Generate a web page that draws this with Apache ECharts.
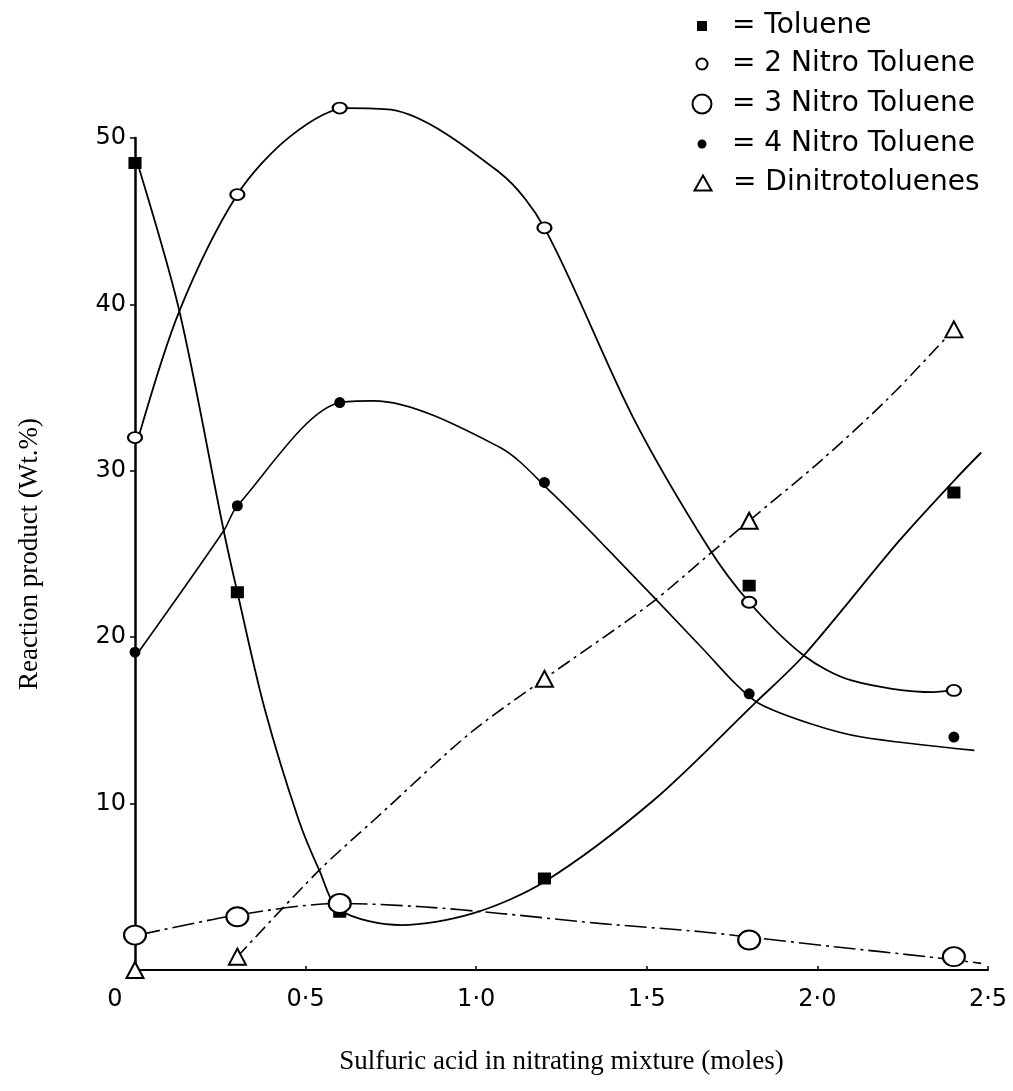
<!DOCTYPE html>
<html>
<head>
<meta charset="utf-8">
<script src="https://cdn.jsdelivr.net/npm/echarts@6/dist/echarts.min.js"></script>
<style>
  html, body { margin: 0; padding: 0; background: #fff; }
  #chart { width: 1013px; height: 1091px; }
</style>
</head>
<body>
<div id="chart"></div>
<script>
const xMoles   = [0, 0.3, 0.6, 1.2, 1.8, 2.4];
const toluene  = [48.5, 22.7, 3.5, 5.5, 23.1, 28.7];
const nitro2   = [32.0, 46.6, 51.8, 44.6, 22.1, 16.8];
const nitro3   = [2.1, 3.2, 4.0, null, 1.8, 0.8];
const nitro4   = [19.1, 27.9, 34.1, 29.3, 16.6, 14.0];
const dinitro  = [0, 0.8, null, 17.5, 27.0, 38.5];

// ---- hand-drawn fitted curves, knots ----
const tolueneCurve = [[0.01,48.3],[0.13,39.6],[0.26,26.4],[0.30,22.7],[0.38,15.7],[0.48,9.0],[0.54,6.0],[0.60,3.6],[0.78,2.7],[0.99,3.4],[1.20,5.3],[1.52,10.2],[1.82,16.1],[1.96,18.9],[2.24,25.8],[2.40,29.4],[2.48,31.1]];
const nitro2Curve  = [[0.01,32.0],[0.13,39.6],[0.30,46.6],[0.455,50.1],[0.62,51.8],[0.75,51.7],[1.07,47.9],[1.20,44.6],[1.46,33.2],[1.68,25.4],[1.80,22.1],[1.96,18.9],[2.10,17.4],[2.34,16.7],[2.39,16.8]];
const nitro3Curve  = [[0.01,2.1],[0.30,3.3],[0.60,4.0],[0.84,3.8],[1.07,3.4],[1.36,2.8],[1.66,2.3],[1.79,2.0],[2.05,1.4],[2.32,0.8],[2.48,0.4]];
const nitro4Curve  = [[0.01,19.1],[0.26,26.4],[0.30,27.9],[0.60,34.1],[0.70,34.2],[1.07,31.4],[1.22,28.7],[1.38,25.4],[1.66,19.4],[1.76,17.2],[1.83,16.0],[1.98,14.8],[2.13,14.0],[2.46,13.2]];
const dinitroCurve = [[0.30,0.8],[0.54,6.0],[0.70,9.0],[0.98,14.2],[1.20,17.5],[1.51,22.0],[1.69,25.1],[1.80,27.0],[2.01,30.6],[2.21,34.4],[2.40,38.5]];

const xTickLabels = ['0', '0·5', '1·0', '1·5', '2·0', '2·5'];
const yTickValues = [10, 20, 30, 40, 50];
const seriesNames = ['Toluene', '2 Nitro Toluene', '3 Nitro Toluene', '4 Nitro Toluene', 'Dinitrotoluenes'];

function pairs(ys) {
  const out = [];
  for (let i = 0; i < ys.length; i++) {
    if (ys[i] !== null) out.push([xMoles[i], ys[i]]);
  }
  return out;
}

const BLACK = '#000';
const legendRows = [26, 64, 104, 144, 183];
const legendIcons = [
  { icon: 'rect', w: 10, h: 10 },
  { icon: 'emptyCircle', w: 13, h: 11 },
  { icon: 'emptyCircle', w: 21, h: 19 },
  { icon: 'circle', w: 9, h: 9 },
  { icon: 'emptyTriangle', w: 17, h: 15 }
];
const legends = seriesNames.map((name, i) => {
  const ic = legendIcons[i];
  return {
    data: [{ name: name, icon: ic.icon }],
    orient: 'vertical',
    left: 702 - ic.w / 2,
    top: legendRows[i] - 16,
    padding: 0,
    itemWidth: ic.w,
    itemHeight: ic.h,
    selectedMode: false,
    formatter: n => '= ' + n,
    textStyle: {
      fontFamily: 'DejaVu Sans', fontSize: 28, color: BLACK,
      lineHeight: 32, padding: [0, 0, 0, 25 - ic.w / 2]
    }
  };
});

const markerSpecs = [
  { symbol: 'rect', size: [11, 10] },
  { symbol: 'emptyCircle', size: [14, 11] },
  { symbol: 'emptyCircle', size: [22, 19] },
  { symbol: 'circle', size: 9 },
  { symbol: 'emptyTriangle', size: [17, 16] }
];
const curves = [tolueneCurve, nitro2Curve, nitro3Curve, nitro4Curve, dinitroCurve];
const markers = [toluene, nitro2, nitro3, nitro4, dinitro];
const dashTypes = ['solid', 'solid', [22, 5, 3, 5], 'solid', [14, 5, 3, 5]];
const widths = [1.8, 1.8, 1.6, 1.6, 1.6];

const series = [];
seriesNames.forEach((name, i) => {
  series.push({
    type: 'line', name: name, smooth: 0.3, clip: false, z: 2,
    symbol: 'none', showSymbol: false,
    itemStyle: { color: BLACK },
    lineStyle: { color: BLACK, width: widths[i], type: dashTypes[i] },
    emphasis: { disabled: true },
    data: curves[i]
  });
});
seriesNames.forEach((name, i) => {
  series.push({
    type: 'scatter', name: name, clip: false, z: 4,
    symbol: markerSpecs[i].symbol, symbolSize: markerSpecs[i].size,
    itemStyle: { color: BLACK, borderColor: BLACK, borderWidth: 2, opacity: 1 },
    emphasis: { disabled: true },
    data: pairs(markers[i])
  });
});

const option = {
  animation: false,
  backgroundColor: '#fff',
  legend: legends,
  grid: { left: 135, right: 25, top: 138, bottom: 121 },
  xAxis: {
    type: 'value', min: 0, max: 2.5, interval: 0.5,
    name: 'Sulfuric acid in nitrating mixture (moles)',
    nameLocation: 'middle', nameGap: 78,
    nameTextStyle: { fontFamily: 'Liberation Serif', fontSize: 27, color: BLACK },
    splitLine: { show: false },
    axisLine: { show: true, onZero: false, lineStyle: { color: BLACK, width: 2 } },
    axisTick: { show: true, inside: true, length: 4, lineStyle: { color: BLACK, width: 1.5 } },
    axisLabel: {
      margin: 18, color: BLACK, fontFamily: 'DejaVu Sans', fontSize: 24,
      formatter: v => {
        const t = xTickLabels[Math.round(v / 0.5)];
        return v === 0 ? '{z|' + t + '}' : t;
      },
      rich: { z: { fontFamily: 'DejaVu Sans', fontSize: 24, color: BLACK, padding: [0, 40, 0, 0] } }
    }
  },
  yAxis: {
    type: 'value', min: 0, max: 50, interval: 10,
    name: 'Reaction product (Wt.%)',
    nameLocation: 'middle', nameGap: 92,
    nameTextStyle: { fontFamily: 'Liberation Serif', fontSize: 27, color: BLACK },
    splitLine: { show: false },
    axisLine: { show: true, lineStyle: { color: BLACK, width: 2.5 } },
    axisTick: { show: true, length: 5, lineStyle: { color: BLACK, width: 1.5 } },
    axisLabel: {
      margin: 9, color: BLACK, fontFamily: 'DejaVu Sans', fontSize: 24,
      padding: [0, 0, 8, 0],
      formatter: v => (yTickValues.indexOf(v) >= 0 ? String(v) : '')
    }
  },
  series: series
};

const chart = echarts.init(document.getElementById('chart'), null, { renderer: 'canvas' });
chart.setOption(option);
</script>
</body>
</html>
